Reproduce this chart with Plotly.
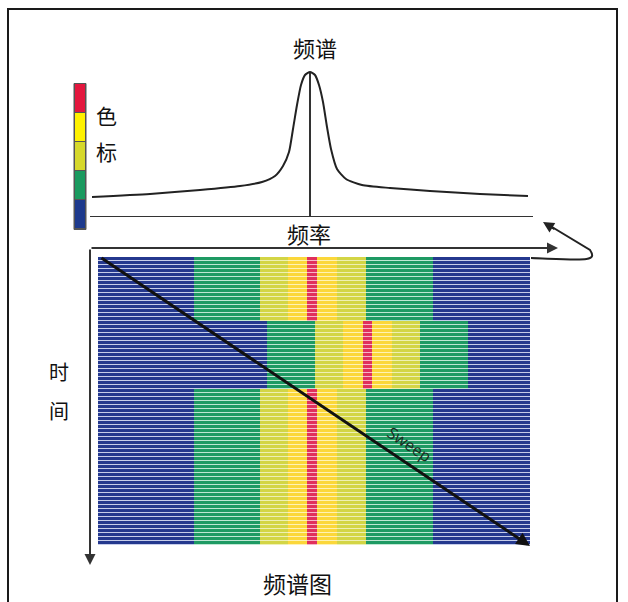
import plotly.graph_objects as go

W, H = 628, 602
CJK = "Noto Sans CJK SC"

# ---------------- data ----------------
# spectrum curve: frequency position vs amplitude above baseline
spec_freq = [92, 150, 200, 240, 262, 275, 283, 289, 293, 297, 301, 305, 310,
             315, 319, 323, 327, 331, 337, 346, 362, 390, 430, 480, 528]
spec_amp = [20, 23, 27, 31, 35, 41, 51, 65, 88, 112, 132, 142, 145,
            142, 132, 115, 90, 68, 48, 38, 32, 29, 26, 23, 21]
peak_freq = 310
peak_amp = 145
baseline_freq = [90, 533]

# colour levels: 0 blue, 1 green, 2 yellow-green, 3 yellow, 4 red
level_names = ["blue", "green", "yellowgreen", "yellow", "red"]
stripe_dark = ["#24388e", "#1e9a63", "#d3d545", "#fbd73a", "#e0305c"]
stripe_light = ["#c6cdea", "#bfe7d3", "#eef0b4", "#fff2b4", "#f6b6c8"]
legend_colors = ["#1d3a8d", "#1a9a5f", "#d6d82b", "#fff100", "#e3173e"]

# spectrogram sections: frequency band edges and colour level per band
section1_edges = [98, 194, 260, 288, 307, 317, 337, 366, 433, 530]
section1_levels = [0, 1, 2, 3, 4, 3, 2, 1, 0]
section2_edges = [98, 267, 315, 343, 363, 372, 392, 420, 468, 530]
section2_levels = [0, 1, 2, 3, 4, 3, 2, 1, 0]
section3_edges = section1_edges
section3_levels = section1_levels
section_rows = [16, 17, 39]          # number of time sweeps in each section

legend_levels = [4, 3, 2, 1, 0]      # colour key, top to bottom
legend_edges_y = [84, 113, 142, 171, 200, 229]

# ---------------- figure ----------------
fig = go.Figure()

TOP = 257
PITCH = 4.0
THICK = 2.6

cs = []
allc = stripe_dark + stripe_light
for i, c in enumerate(allc):
    cs.append([i / len(allc), c])
    cs.append([(i + 1) / len(allc), c])

sections = [(section1_edges, section1_levels),
            (section2_edges, section2_levels),
            (section3_edges, section3_levels)]
y0 = TOP
for (edges, levels), n in zip(sections, section_rows):
    yedges, z = [], []
    for k in range(n):
        t = y0 + k * PITCH
        yedges += [t, t + THICK]
        z.append(list(levels))
        z.append([lv + 5 for lv in levels])
    yedges.append(y0 + n * PITCH)
    fig.add_trace(go.Heatmap(x=edges, y=yedges, z=z, colorscale=cs,
                             zmin=-0.5, zmax=9.5, showscale=False,
                             hoverinfo="skip", xaxis="x", yaxis="y"))
    y0 += n * PITCH

# colour key
lcs = []
for i, c in enumerate(legend_colors):
    lcs.append([i / 5, c])
    lcs.append([(i + 1) / 5, c])
fig.add_trace(go.Heatmap(x=[75, 85], y=legend_edges_y,
                         z=[[lv] for lv in legend_levels], colorscale=lcs,
                         zmin=-0.5, zmax=4.5, showscale=False, ygap=1,
                         hoverinfo="skip", xaxis="x", yaxis="y"))

# spectrum
fig.add_trace(go.Scatter(x=baseline_freq, y=[0, 0], mode="lines",
                         line=dict(color="#333333", width=2),
                         xaxis="x", yaxis="y2", hoverinfo="skip"))
fig.add_trace(go.Scatter(x=[peak_freq, peak_freq], y=[0, peak_amp], mode="lines",
                         line=dict(color="#333333", width=2),
                         xaxis="x", yaxis="y2", hoverinfo="skip"))
fig.add_trace(go.Scatter(x=spec_freq, y=spec_amp, mode="lines",
                         line=dict(color="#222222", width=2, shape="spline", smoothing=0.6),
                         xaxis="x", yaxis="y2", hoverinfo="skip"))

shapes = [
    dict(type="rect", xref="x", yref="y", x0=8, y0=9, x1=617, y1=620,
         line=dict(color="#1a1a1a", width=2), layer="above"),
    dict(type="rect", xref="x", yref="y", x0=74, y0=83.5, x1=86, y1=229.5,
         line=dict(color="#555555", width=1), fillcolor="#555555", layer="below"),
    dict(type="path", xref="x", yref="y",
         path="M 531 258 C 585 260, 598 262, 590 250 L 552 227",
         line=dict(color="#222222", width=2)),
]

annotations = []
def text(x, y, s, size=21, angle=0, color="#111111", family=CJK):
    annotations.append(dict(x=x, y=y, xref="x", yref="y", text=s, showarrow=False,
                            font=dict(family=family, size=size, color=color),
                            textangle=angle, xanchor="center", yanchor="middle"))

def arrow(x0, y0_, x1, y1, width=2, color="#333333", head=2, size=1.0):
    annotations.append(dict(x=x1, y=y1, ax=x0, ay=y0_, xref="x", yref="y",
                            axref="x", ayref="y", text="", showarrow=True,
                            arrowhead=head, arrowsize=size, arrowwidth=width,
                            arrowcolor=color, standoff=0, startstandoff=0))

text(315, 47, "频谱", 22)
text(106, 115, "色", 21)
text(106, 151, "标", 21)
text(309, 233, "频率", 22)
text(59, 371, "时", 20)
text(59, 410, "间", 20)
text(297, 583, "频谱图", 23)
text(409, 444, "Sweep", 16, angle=33.7, color="#1b2b22", family="Open Sans")

arrow(90, 248, 558, 248, width=2, size=1.1)
arrow(90, 248, 90, 565, width=2, size=1.1)
arrow(556, 230, 543, 222, width=2, size=1.1, color="#222222")
arrow(100, 257, 530, 546, width=3, size=0.9, color="#111111")

fig.update_layout(
    width=W, height=H, margin=dict(l=0, r=0, t=0, b=0),
    paper_bgcolor="white", plot_bgcolor="rgba(0,0,0,0)", showlegend=False,
    xaxis=dict(range=[0, W], visible=False, fixedrange=True),
    yaxis=dict(range=[H, 0], visible=False, fixedrange=True, domain=[0, 1]),
    yaxis2=dict(range=[0, 217], visible=False, fixedrange=True,
                domain=[1 - 217 / H, 1], anchor="x"),
    shapes=shapes, annotations=annotations,
)

fig.write_html("out.html", post_script="document.body.style.margin='0';",
               config={"displayModeBar": False})
